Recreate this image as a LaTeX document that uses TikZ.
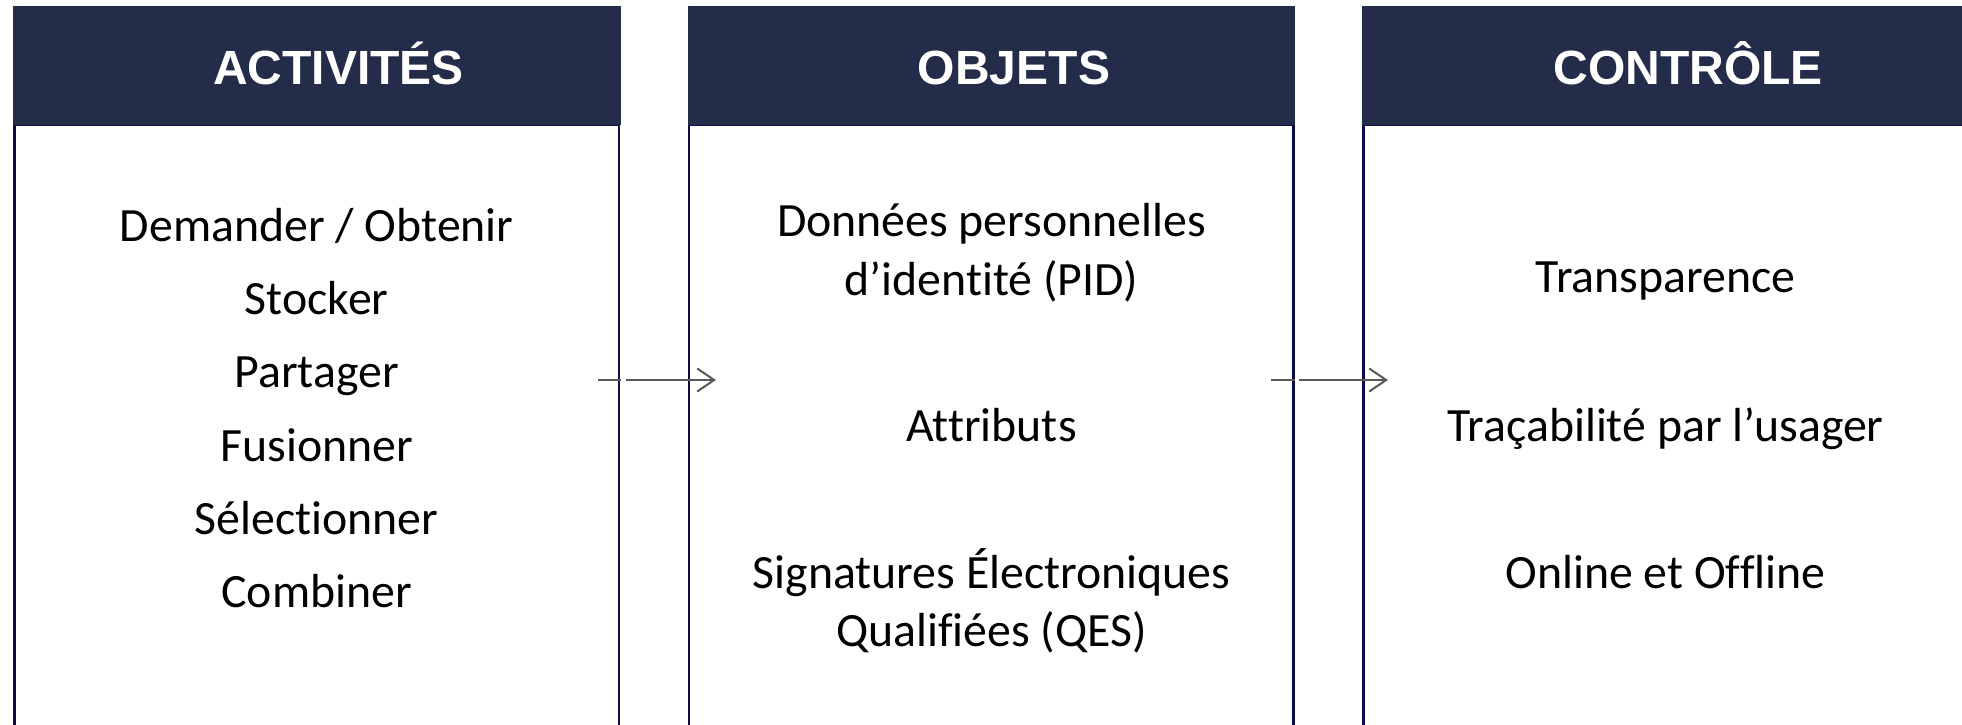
\documentclass[tikz,border=0pt]{standalone}
\usepackage{fontspec}
\usetikzlibrary{arrows.meta}
\newfontfamily\hdrfont{Liberation Sans}
\newfontfamily\bodyfont{Carlito}[Ligatures=NoCommon]
\definecolor{hdrcol}{RGB}{35,44,72}
\definecolor{bordcol}{RGB}{12,12,70}
\definecolor{arrcol}{RGB}{89,89,89}
\tikzset{
  colbox/.style={draw=bordcol, line width=2.6pt, fill=white, inner sep=0pt, outer sep=0pt, anchor=north west, minimum width=604.5pt, minimum height=640pt},
  hdrbox/.style={fill=hdrcol, draw=none, inner sep=0pt, outer sep=0pt, anchor=north west, minimum width=607.5pt, minimum height=119pt},
  htext/.style={font=\hdrfont\bfseries\fontsize{48pt}{52pt}\selectfont, text=white, anchor=base, inner sep=0pt},
  btext/.style={font=\bodyfont\fontsize{47.8pt}{56pt}\selectfont, text=black, anchor=base, inner sep=0pt},
  arr/.style={draw=arrcol, line width=2pt, -{Straight Barb[length=17pt,width=23pt,line width=2pt]}},
}
\begin{document}
\begin{tikzpicture}[x=1pt,y=-1pt]
\useasboundingbox (0,0) rectangle (1962,725);
\clip (0,0) rectangle (1962,725);
% column boxes
\node[colbox] (b1) at (14.5,125) {};
\node[colbox] (b2) at (689,125) {};
\node[colbox] (b3) at (1363.5,125) {};
% headers
\node[hdrbox] (h1) at (13,6) {};
\node[hdrbox] (h2) at (687.5,6) {};
\node[hdrbox] (h3) at (1362,6) {};
\node[htext] (t1) at (338.5,84.5) {ACTIVITÉS};
\node[htext] (t2) at (1014,84.5) {OBJETS};
\node[htext] (t3) at (1688,84.5) {CONTRÔLE};
% column 1
\node[btext] (c11) at (316.7,241) {Demander / Obtenir};
\node[btext] (c12) at (316.7,314.3) {Stocker};
\node[btext] (c13) at (316.7,387.6) {Partager};
\node[btext] (c14) at (316.7,461) {Fusionner};
\node[btext] (c15) at (316.7,534.3) {Sélectionner};
\node[btext] (c16) at (316.7,607.6) {Combiner};
% column 2
\node[btext] (c21) at (991.5,236.5) {Données personnelles};
\node[btext] (c22) at (991.5,295.3) {d’identité (PID)};
\node[btext] (c23) at (991.5,441.7) {Attributs};
\node[btext] (c24) at (991.5,588.1) {Signatures Électroniques};
\node[btext] (c25) at (991.5,646.9) {Qualifiées (QES)};
% column 3
\node[btext] (c31) at (1665.5,292.8) {Transparence};
\node[btext] (c32) at (1665.5,441.7) {Traçabilité par l’usager};
\node[btext] (c33) at (1665.5,588.1) {Online et Offline};
% arrows
\coordinate (a1s) at (598,380);
\coordinate (a1e) at (716,380);
\coordinate (a2s) at (1271,380);
\coordinate (a2e) at (1388,380);
\draw[arr] (a1s) -- (a1e);
\draw[arr] (a2s) -- (a2e);
\fill[white] (620.6,377) rectangle (625.5,383);
\fill[white] (1295.2,377) rectangle (1298.5,383);
\end{tikzpicture}
\end{document}
